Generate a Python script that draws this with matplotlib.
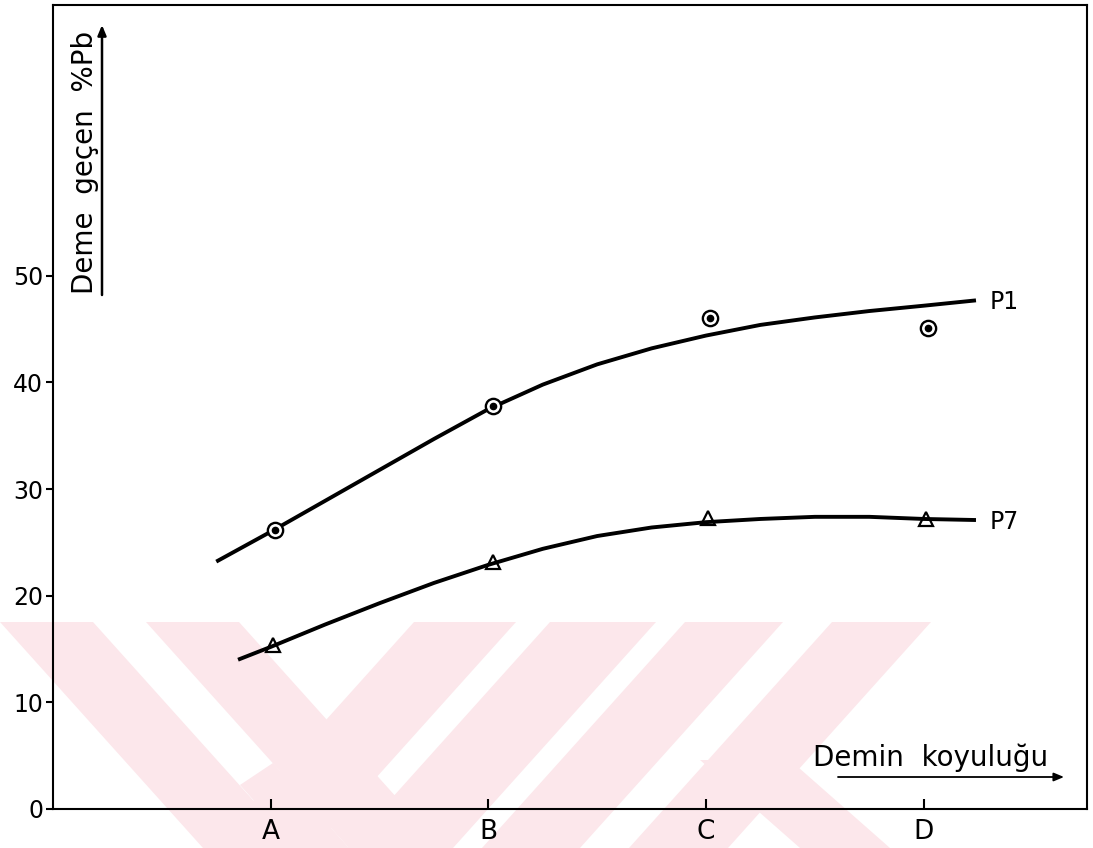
import matplotlib
matplotlib.use("Agg")
import matplotlib.pyplot as plt
from matplotlib.patches import Polygon, FancyArrowPatch

# ---- data -------------------------------------------------------------
categories = ["A", "B", "C", "D"]
cat_pos = [1, 2, 3, 4]
y_ticks = [0, 10, 20, 30, 40, 50]

# measured points
p1_x = [1.02, 2.02, 3.02, 4.02]
p1_y = [26.2, 37.8, 46.0, 45.1]
p7_x = [1.01, 2.02, 3.01, 4.01]
p7_y = [15.4, 23.2, 27.3, 27.2]

# hand-fitted trend curves
p1_curve_x = [0.75, 1.0, 1.25, 1.5, 1.75, 2.0, 2.25, 2.5, 2.75, 3.0, 3.25, 3.5, 3.75, 4.0, 4.24]
p1_curve_y = [23.2, 26.0, 28.9, 31.8, 34.7, 37.5, 39.8, 41.7, 43.2, 44.4, 45.4, 46.1, 46.7, 47.2, 47.7]
p7_curve_x = [0.85, 1.0, 1.25, 1.5, 1.75, 2.0, 2.25, 2.5, 2.75, 3.0, 3.25, 3.5, 3.75, 4.0, 4.24]
p7_curve_y = [14.0, 15.2, 17.3, 19.3, 21.2, 22.9, 24.4, 25.6, 26.4, 26.9, 27.2, 27.4, 27.4, 27.2, 27.1]

series_names = ["P1", "P7"]

# ---- figure -----------------------------------------------------------
W, H = 1093, 848
fig = plt.figure(figsize=(W / 100, H / 100), dpi=100)
fig.patch.set_facecolor("white")

# faint background emblem (pixel outlines, y measured from the top)
emblem = [
    [(0, 622), (93, 622), (296, 848), (203, 848)],
    [(146, 622), (239, 622), (442, 848), (349, 848)],
    [(240, 785), (273, 763), (349, 848), (296, 848)],
    [(414, 622), (516, 622), (313, 848), (211, 848)],
    [(550, 622), (656, 622), (453, 848), (347, 848)],
    [(685, 622), (783, 622), (580, 848), (482, 848)],
    [(832, 622), (931, 622), (728, 848), (629, 848)],
    [(700, 760), (790, 760), (890, 848), (800, 848)],
]
for poly in emblem:
    pts = [(x / W, 1 - y / H) for x, y in poly]
    fig.patches.append(Polygon(pts, closed=True, transform=fig.transFigure,
                               facecolor="#fce7eb", edgecolor="none", zorder=-5))

ax = fig.add_axes([53 / W, (H - 809) / H, (1087 - 53) / W, (809 - 5) / H])
ax.patch.set_alpha(0)
ax.set_xlim(0, 4.75)
ax.set_ylim(0, 75.4)

for s in ax.spines.values():
    s.set_linewidth(1.5)
    s.set_color("black")

ax.set_xticks(cat_pos)
ax.set_xticklabels(categories, fontsize=19)
ax.set_yticks(y_ticks)
ax.set_yticklabels([str(v) for v in y_ticks], fontsize=17)
ax.tick_params(axis="x", direction="in", length=7, width=1.5, pad=7)
ax.tick_params(axis="y", direction="out", length=5, width=1.5, pad=2)

line_kw = dict(color="black", lw=2.8, solid_capstyle="butt", solid_joinstyle="round", zorder=3)
ax.plot(p1_curve_x, p1_curve_y, **line_kw)
ax.plot(p7_curve_x, p7_curve_y, **line_kw)

# P1 markers: open circle with a central dot
ax.plot(p1_x, p1_y, ls="none", marker="o", ms=11, mfc="white", mec="black", mew=1.7, zorder=4)
ax.plot(p1_x, p1_y, ls="none", marker="o", ms=4.5, mfc="black", mec="black", zorder=5)
# P7 markers: open triangles
ax.plot(p7_x, p7_y, ls="none", marker="^", ms=10, mfc="none", mec="black", mew=1.6, zorder=4)

# series names at the end of each curve
for name, cx, cy in zip(series_names, [p1_curve_x, p7_curve_x], [p1_curve_y, p7_curve_y]):
    ax.annotate(name, xy=(cx[-1], cy[-1]), xytext=(10, -6.5), textcoords="offset points",
                ha="left", va="baseline", fontsize=17)

# axis captions with direction arrows
fig.text(93 / W, 1 - 162 / H, "Deme  geçen  %Pb", rotation=90, rotation_mode="anchor",
         ha="center", va="baseline", fontsize=20)
fig.add_artist(FancyArrowPatch(
    (102 / W, 1 - 295 / H), (102 / W, 1 - 25 / H), transform=fig.transFigure,
    arrowstyle="-|>,head_length=6,head_width=2.5", lw=1.8, color="black",
    shrinkA=0, shrinkB=0))

fig.text(813 / W, 1 - 766 / H, "Demin  koyuluğu", ha="left", va="baseline", fontsize=20)
fig.add_artist(FancyArrowPatch(
    (838 / W, 1 - 777 / H), (1064 / W, 1 - 777 / H), transform=fig.transFigure,
    arrowstyle="-|>,head_length=6,head_width=2.5", lw=1.3, color="black",
    shrinkA=0, shrinkB=0))

fig.savefig("out.png", dpi=100, facecolor="white")
